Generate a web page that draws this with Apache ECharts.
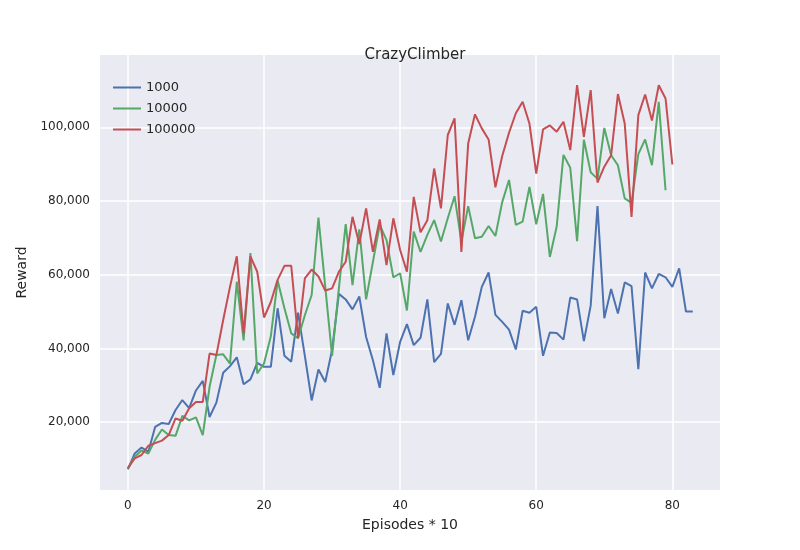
<html>
<head>
<meta charset="UTF-8">
<script src="https://cdn.jsdelivr.net/npm/echarts@6/dist/echarts.min.js"></script>
<style>
  body { margin: 0; background: #fff; }
  #container { width: 800px; height: 550px; }
</style>
</head>
<body>
<div id="container"></div>
<script>
    // rewards, one point per 10 episodes
    var names = ['1000', '10000', '100000'];
    var reward1000 = [7200, 11500, 13100, 12000, 18700, 19800, 19500, 23300, 26000, 23800,
        28600, 31200, 21400, 25300, 33400, 35200, 37600, 30300, 31600, 36100,
        35000, 35000, 50900, 38000, 36400, 49700, 38000, 25900, 34300, 30900,
        39600, 54800, 53300, 50600, 54100, 43100, 36800, 29300, 44100, 32800,
        41800, 46600, 40900, 42900, 53300, 36300, 38500, 52200, 46400, 53100,
        42200, 48600, 56700, 60600, 49100, 47200, 45100, 39700, 50200, 49700,
        51300, 38000, 44300, 44200, 42400, 53800, 53300, 42000, 51600, 78600,
        48200, 56100, 49500, 57900, 56900, 34400, 60600, 56300, 60200, 59300,
        56700, 61700, 50000, 50000];
    var reward10000 = [7400, 10600, 12300, 11500, 15200, 18000, 16500, 16300, 21700, 20500,
        21300, 16500, 29600, 38200, 38400, 35900, 58100, 42200, 65900, 33200,
        35900, 43300, 58400, 50900, 44100, 42800, 49000, 54500, 75500, 56700,
        38000, 56300, 73700, 57200, 72300, 53300, 63500, 73500, 69400, 59300,
        60400, 50300, 71700, 66200, 70800, 74800, 69000, 75300, 81300, 69000,
        78600, 69900, 70300, 73200, 70500, 79700, 85700, 73500, 74400, 83800,
        73700, 81900, 64800, 73000, 92500, 89000, 69100, 96600, 87800, 86000,
        99800, 92400, 89700, 80700, 79500, 92700, 96700, 89700, 106900, 82900];
    var reward100000 = [7600, 10200, 11100, 13600, 14300, 15000, 16500, 21000, 20400, 23800,
        25500, 25500, 38600, 38200, 47700, 56700, 65000, 44100, 65000, 60800,
        48400, 52600, 58600, 62400, 62400, 42800, 59000, 61400, 59500, 55700,
        56300, 60800, 63500, 75700, 68300, 78000, 66200, 75000, 62600, 75300,
        66700, 60800, 81100, 71500, 74800, 88800, 78000, 97900, 102400, 66200,
        95600, 103500, 99700, 96700, 83700, 92200, 98500, 103800, 106900, 101000,
        87400, 99400, 100500, 98800, 101500, 93800, 111400, 97400, 110100, 85000,
        89300, 92400, 109000, 101000, 75700, 103300, 108900, 101800, 111400, 107800,
        89900];
    var xTicks = [0, 20, 40, 60, 80];
    var yTicks = [20000, 40000, 60000, 80000, 100000];
    var colors = ['#4C72B0', '#55A868', '#C44E52'];

    function pairs(arr)
    {
        return arr.map(function (v, i) { return [i, v]; });
    }

    var chart = echarts.init(document.getElementById('container'));
    var font = 'DejaVu Sans';

    var option = {
        backgroundColor: '#fff',
        textStyle: { fontFamily: font },
        title: {
            text: 'CrazyClimber',
            left: 410, top: 43, textAlign: 'center',
            textStyle: { fontSize: 15, fontWeight: 'normal', color: '#262626', fontFamily: font }
        },
        legend: {
            orient: 'vertical', left: 108, top: 76,
            itemWidth: 28, itemHeight: 2, itemGap: 8,
            icon: 'rect',
            textStyle: { fontSize: 13, color: '#262626', fontFamily: font },
            data: names
        },
        grid: { left: 100, right: 80, top: 55, bottom: 60, show: true, backgroundColor: '#EAEAF2', borderWidth: 0 },
        xAxis: {
            type: 'value', min: -4.1, max: 87,
            name: 'Episodes * 10', nameLocation: 'middle', nameGap: 28,
            nameTextStyle: { fontSize: 14, color: '#262626' },
            axisLine: { show: false },
            axisTick: { show: false, customValues: xTicks },
            axisLabel: { customValues: xTicks, fontSize: 12, color: '#262626', margin: 10 },
            splitLine: { show: true, lineStyle: { color: '#fff', width: 1.5 } }
        },
        yAxis: {
            type: 'value', min: 1600, max: 119600,
            name: 'Reward', nameLocation: 'middle', nameGap: 62,
            nameTextStyle: { fontSize: 14, color: '#262626' },
            axisLine: { show: false },
            axisTick: { show: false, customValues: yTicks },
            axisLabel: { customValues: yTicks, fontSize: 12, color: '#262626', margin: 10 },
            splitLine: { show: true, lineStyle: { color: '#fff', width: 1.5 } }
        },
        series: [reward1000, reward10000, reward100000].map(function (d, k) {
            return {
                name: names[k], type: 'line', data: pairs(d),
                showSymbol: false, animation: false,
                color: colors[k],
                lineStyle: { width: 2, color: colors[k] }
            };
        })
    };

    chart.setOption(option);
</script>
</body>
</html>
